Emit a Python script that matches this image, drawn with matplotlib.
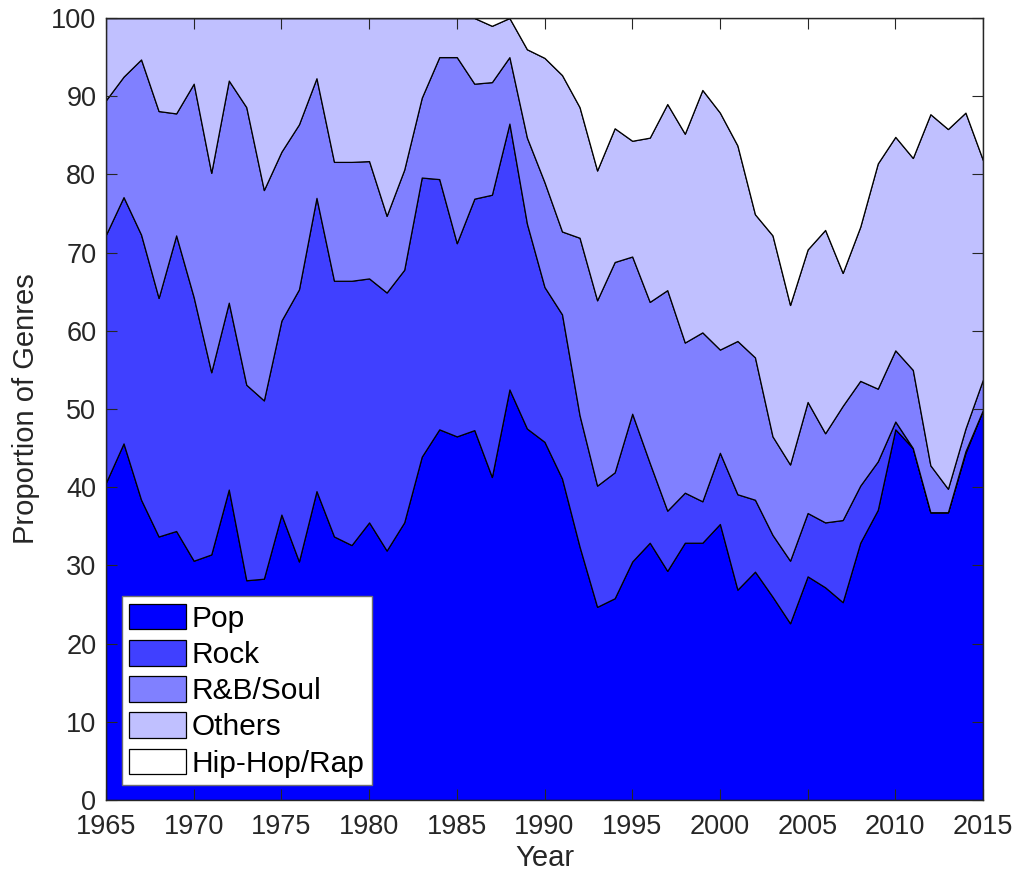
import numpy as np
import matplotlib
matplotlib.use('Agg')
import matplotlib.pyplot as plt

plt.rcParams['font.family'] = ['Liberation Sans', 'DejaVu Sans']

# Year range of the chart
years = np.arange(1965, 2016)

# Share of each genre per year (percent)
pop = [40.6, 45.6, 38.4, 33.7, 34.4, 30.6, 31.4, 39.7, 28.1, 28.3,
       36.5, 30.5, 39.5, 33.7, 32.6, 35.5, 31.9, 35.5, 43.9, 47.4,
       46.5, 47.3, 41.3, 52.5, 47.5, 45.8, 41.1, 32.4, 24.7, 25.8,
       30.5, 32.9, 29.3, 32.9, 32.9, 35.3, 26.9, 29.2, 26.0, 22.6,
       28.6, 27.2, 25.3, 32.9, 37.1, 47.4, 45.0, 36.8, 36.8, 44.4,
       49.9]
rock = [31.7, 31.5, 33.9, 30.5, 37.8, 33.7, 23.3, 23.9, 25.0, 22.8,
        24.8, 34.8, 37.5, 32.7, 33.8, 31.2, 33.0, 32.3, 35.7, 32.0,
        24.7, 29.6, 36.1, 34.0, 26.2, 19.8, 21.0, 16.8, 15.5, 16.1,
        18.9, 10.2, 7.7, 6.4, 5.3, 9.1, 12.2, 9.2, 7.9, 8.0,
        8.1, 8.3, 10.5, 7.3, 6.2, 1.0, 0.0, 0.0, 0.0, 0.2,
        0.0]
rnb = [17.2, 15.4, 22.4, 23.9, 15.6, 27.3, 25.5, 28.4, 35.5, 26.9,
       21.6, 21.1, 15.3, 15.2, 15.2, 15.0, 9.8, 12.8, 10.2, 15.6,
       23.8, 14.7, 14.4, 8.5, 11.0, 13.4, 10.6, 22.7, 23.7, 26.9,
       20.1, 20.6, 28.2, 19.2, 21.6, 13.2, 19.6, 18.2, 12.6, 12.3,
       14.2, 11.4, 14.6, 13.4, 9.3, 9.1, 10.0, 6.0, 3.0, 2.9,
       3.9]
others = [10.5, 7.5, 5.3, 11.9, 12.2, 8.4, 19.8, 8.0, 11.4, 22.0,
          17.1, 13.6, 7.7, 18.4, 18.4, 18.3, 25.3, 19.4, 10.2, 5.0,
          5.0, 8.4, 7.2, 5.0, 11.3, 15.9, 20.0, 16.7, 16.6, 17.1,
          14.8, 21.0, 23.8, 26.7, 31.0, 30.3, 25.0, 18.3, 25.7, 20.4,
          19.5, 26.0, 17.0, 19.7, 28.8, 27.3, 27.1, 44.9, 46.0, 40.4,
          28.0]
hiphop = [0.0] * 21 + [0.0, 1.0, 0.0, 4.0, 5.1, 7.3, 11.4, 19.5, 14.1,
                       15.7, 15.3, 11.0, 14.8, 9.2, 12.1, 16.3, 25.1, 27.8, 36.7,
                       29.6, 27.1, 32.6, 26.7, 18.6, 15.2, 17.9, 12.3, 14.2, 12.1,
                       18.2]

labels = ['Pop', 'Rock', 'R&B/Soul', 'Others', 'Hip-Hop/Rap']
colors = ['#0000ff', '#4040ff', '#8080ff', '#c0c0ff', '#ffffff']

fig = plt.figure(figsize=(10.21, 8.88), dpi=100)
ax = fig.add_axes([106 / 1021, 88 / 888, 877 / 1021, 782 / 888])

ax.stackplot(years, pop, rock, rnb, others, hiphop, labels=labels,
             colors=colors, edgecolor='black', linewidth=0.9)

ax.set_xlim(1965, 2015)
ax.set_ylim(0, 100)
ax.set_xticks(np.arange(1965, 2016, 5))
ax.set_yticks(np.arange(0, 101, 10))

tick_col = '#262626'
ax.tick_params(direction='in', length=8, width=0.8, top=True, right=True,
               labelsize=19.5, colors=tick_col)
ax.tick_params(axis='x', pad=10)
ax.tick_params(axis='y', pad=7)
for s in ax.spines.values():
    s.set_color(tick_col)
    s.set_linewidth(1.0)

ax.set_xlabel('Year', fontsize=21, color=tick_col, labelpad=3)
ax.set_ylabel('Proportion of Genres', fontsize=21, color=tick_col, labelpad=8)

leg = ax.legend(loc='lower left', bbox_to_anchor=(0.018, 0.019), borderaxespad=0,
                fontsize=21.5, fancybox=False, framealpha=1, edgecolor='#707070',
                handlelength=1.9, handleheight=0.94, labelspacing=0.24,
                handletextpad=0.2, borderpad=0.25)
leg.get_frame().set_linewidth(1.0)
for h in leg.legend_handles:
    h.set_edgecolor('black')
    h.set_linewidth(0.9)

fig.savefig('out.png', dpi=100)
